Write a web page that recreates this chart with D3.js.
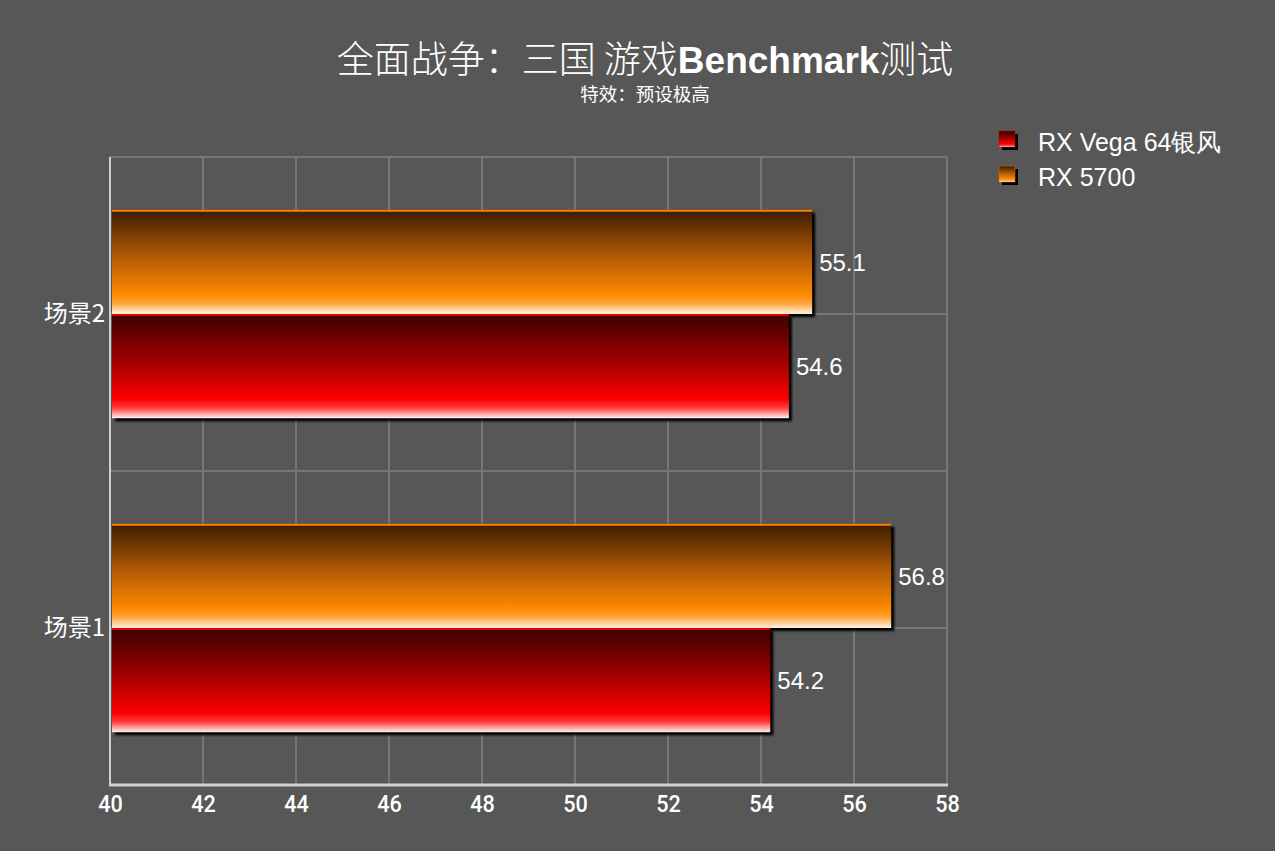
<!DOCTYPE html>
<html><head><meta charset="utf-8">
<script src="https://cdn.jsdelivr.net/npm/d3@7"></script>
<style>
html,body{margin:0;padding:0;background:#575757;}
svg{display:block;}
</style></head>
<body>
<script>
const categories = ["场景2", "场景1"];
const seriesNames = ["RX 5700", "RX Vega 64银风"];
const rx5700 = [55.1, 56.8];
const vega64 = [54.6, 54.2];
const xTicks = [40, 42, 44, 46, 48, 50, 52, 54, 56, 58];
const legendNames = ["RX Vega 64银风", "RX 5700"];

(function () {
const W = 1275, H = 851;
const svg = d3.select("body").append("svg").attr("width", W).attr("height", H);
svg.append("rect").attr("width", W).attr("height", H).attr("fill", "#575757");

const defs = svg.append("defs");
function grad(id, stops) {
  const g = defs.append("linearGradient").attr("id", id).attr("x1", 0).attr("y1", 0).attr("x2", 0).attr("y2", 1);
  stops.forEach(s => g.append("stop").attr("offset", s[0]).attr("stop-color", s[1]));
}
grad("gOrange", [[0, "#3a1c02"], [0.45, "#b25a06"], [0.82, "#ff8a00"], [0.9, "#ffa540"], [1, "#fff4e6"]]);
grad("gRed", [[0, "#3c0000"], [0.45, "#a00000"], [0.82, "#ff0000"], [0.9, "#ff3a3a"], [1, "#fff0f0"]]);
const blur = defs.append("filter").attr("id", "sh").attr("x", "-5%").attr("y", "-5%").attr("width", "115%").attr("height", "115%");
blur.append("feGaussianBlur").attr("stdDeviation", 0.8);

const pLeft = 110, pRight = 947, pTop = 157, pBottom = 785;
const x = d3.scaleLinear().domain([40, 58]).range([pLeft, pRight]);
const y = d3.scaleBand().domain(categories).range([pTop, pBottom]).paddingInner(0).paddingOuter(0);
const inner = 0.332;

// gridlines
const g = svg.append("g");
xTicks.slice(1).forEach(t => {
  g.append("line").attr("x1", x(t)).attr("x2", x(t)).attr("y1", pTop).attr("y2", pBottom)
    .attr("stroke", "#767676").attr("stroke-width", 2);
});
const hLines = [];
categories.forEach(c => { hLines.push(y(c)); hLines.push(y(c) + y.bandwidth() / 2); });
hLines.forEach(v => {
  g.append("line").attr("x1", pLeft).attr("x2", pRight).attr("y1", v).attr("y2", v)
    .attr("stroke", "#767676").attr("stroke-width", 2);
});

// bars
const barH = y.bandwidth() * inner;
function drawBar(cat, val, idx, fill, topColor) {
  const cy = y(cat) + y.bandwidth() / 2;
  const y0 = idx === 0 ? cy - barH : cy;
  const x0 = x(40) + 2, w = x(val) - x0;
  svg.append("rect").attr("x", x0 + 3).attr("y", y0 + 3).attr("width", w).attr("height", barH)
    .attr("fill", "#000").attr("filter", "url(#sh)");
  svg.append("rect").attr("x", x0).attr("y", y0).attr("width", w).attr("height", barH).attr("fill", fill);
  svg.append("line").attr("x1", x0).attr("x2", x0 + w).attr("y1", y0 + 1).attr("y2", y0 + 1)
    .attr("stroke", topColor).attr("stroke-width", 2);
  svg.append("text").attr("x", x(val) + 7).attr("y", cy + (idx === 0 ? -barH / 2 : barH / 2))
    .attr("dy", "0.36em").attr("fill", "#fff").attr("font-family", "Liberation Sans, Arial, sans-serif")
    .attr("font-size", 24).text(val.toFixed(1));
}
categories.forEach((c, i) => {
  drawBar(c, rx5700[i], 0, "url(#gOrange)", "#ff8000");
  drawBar(c, vega64[i], 1, "url(#gRed)", "#e00000");
});

// axes
svg.append("line").attr("x1", pLeft).attr("x2", pLeft).attr("y1", pTop).attr("y2", pBottom + 1)
  .attr("stroke", "#d0d0d0").attr("stroke-width", 2);
svg.append("line").attr("x1", pLeft - 1).attr("x2", pRight + 1).attr("y1", pBottom).attr("y2", pBottom)
  .attr("stroke", "#d0d0d0").attr("stroke-width", 3);

const xAxis = d3.axisBottom(x).tickValues(xTicks).tickSize(0).tickPadding(0);
const xa = svg.append("g").attr("transform", `translate(0,${pBottom})`).call(xAxis);
xa.select(".domain").remove();
xa.selectAll("text").attr("fill", "#fff").attr("font-family", "Roboto, sans-serif")
  .attr("font-weight", 500).attr("font-size", 24).attr("y", 27).attr("dy", 0)
  .attr("transform", "scale(0.9,1)");

const yAxis = d3.axisLeft(y).tickSize(0).tickPadding(5);
const ya = svg.append("g").attr("transform", `translate(${pLeft},0)`).call(yAxis);
ya.select(".domain").remove();
ya.selectAll("text").attr("fill", "#fff").attr("font-family", "Noto Sans CJK SC, sans-serif")
  .attr("font-size", 24);

// title
const title = svg.append("text").attr("x", 645).attr("y", 73).attr("text-anchor", "middle")
  .attr("fill", "#fff").attr("font-size", 37);
title.append("tspan").attr("font-family", "Noto Sans CJK SC, sans-serif").attr("font-weight", 300).text("全面战争：三国 游戏");
title.append("tspan").attr("font-family", "Liberation Sans, Arial, sans-serif").attr("font-weight", "bold").text("Benchmark");
title.append("tspan").attr("font-family", "Noto Sans CJK SC, sans-serif").attr("font-weight", 300).text("测试");
svg.append("text").attr("x", 645).attr("y", 101).attr("text-anchor", "middle").attr("fill", "#fff")
  .attr("font-family", "Noto Sans CJK SC, sans-serif").attr("font-size", 18.5).text("特效：预设极高");

// legend
const legFills = ["url(#gRed)", "url(#gOrange)"];
legendNames.forEach((n, i) => {
  const ly = 142 + i * 35;
  svg.append("rect").attr("x", 1002).attr("y", ly - 8).attr("width", 16).attr("height", 16).attr("fill", "#000");
  svg.append("rect").attr("x", 999).attr("y", ly - 11).attr("width", 16).attr("height", 16).attr("fill", legFills[i])
    .attr("stroke", i === 0 ? "#c00000" : "#e07000").attr("stroke-width", 0.5);
  svg.append("text").attr("x", 1038).attr("y", ly).attr("dy", "0.36em").attr("fill", "#fff")
    .attr("font-family", "Liberation Sans, Arial, sans-serif").attr("font-size", 25).text(n);
});
})();
</script>
</body></html>
